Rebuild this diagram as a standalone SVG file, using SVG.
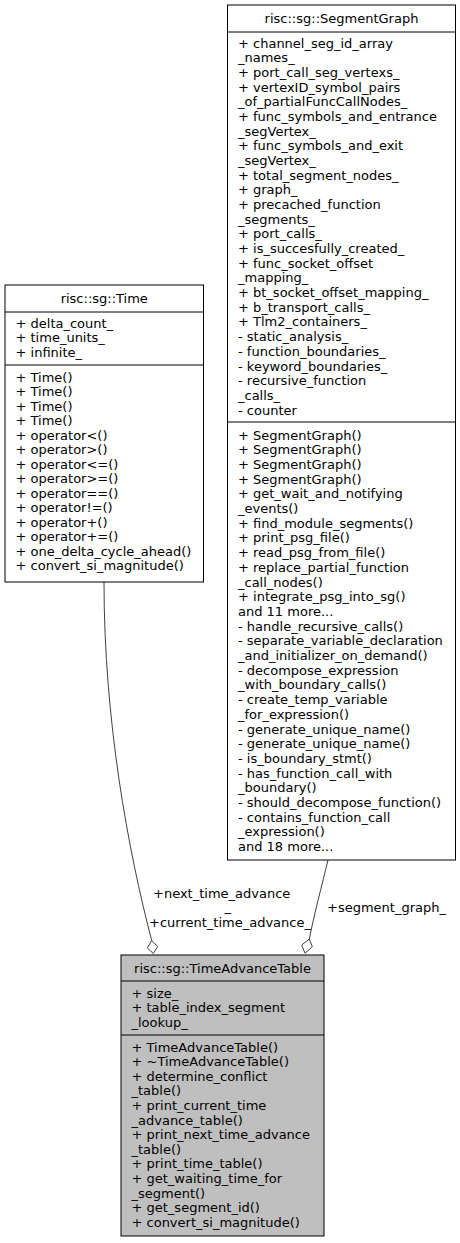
<svg xmlns="http://www.w3.org/2000/svg" width="460" height="1243" viewBox="0 0 460 1243">
<style>
text{font-family:"DejaVu Sans","Noto Sans",sans-serif;font-size:13px;fill:#000}
.t{text-anchor:middle}
.box{fill:#fff;stroke:#000;stroke-width:1}
.root{fill:#bfbfbf;stroke:#000;stroke-width:1}
.sep{stroke:#000;stroke-width:1}
.edge{fill:none;stroke:#404040;stroke-width:1}
.dia{fill:#fff;stroke:#404040;stroke-width:1}
</style>
<rect width="460" height="1243" fill="#fff"/>
<g id="edges">
<path class="edge" d="M104,582 C104,720 128,850 151.7,940.5"/>
<polygon class="dia" points="151.7,940.5 157.7,946.5 153.3,953.5 147.3,948"/>
<path class="edge" d="M328,860 C322,885 314,915 309.3,939"/>
<polygon class="dia" points="309.3,939 312.3,946.7 305,953.3 301.7,945"/>
<text x="153" y="897.5">+next_time_advance</text>
<text x="224.5" y="911">_</text>
<text x="149" y="926.5">+current_time_advance_</text>
<text x="327" y="911.5">+segment_graph_</text>
</g>
<g id="node_Time">
<rect class="box" x="5" y="285" width="198.5" height="297"/>
<line class="sep" x1="5" y1="312" x2="203.5" y2="312"/>
<line class="sep" x1="5" y1="365" x2="203.5" y2="365"/>
<text class="t" x="104.25" y="303">risc::sg::Time</text>
<text x="15.5" y="327.5">+ delta_count_</text>
<text x="15.5" y="342">+ time_units_</text>
<text x="15.5" y="356.5">+ infinite_</text>
<text x="15.5" y="381.5">+ Time()</text>
<text x="15.5" y="396">+ Time()</text>
<text x="15.5" y="410.5">+ Time()</text>
<text x="15.5" y="425">+ Time()</text>
<text x="15.5" y="439.5">+ operator&lt;()</text>
<text x="15.5" y="454">+ operator&gt;()</text>
<text x="15.5" y="468.5">+ operator&lt;=()</text>
<text x="15.5" y="483">+ operator&gt;=()</text>
<text x="15.5" y="497.5">+ operator==()</text>
<text x="15.5" y="512">+ operator!=()</text>
<text x="15.5" y="526.5">+ operator+()</text>
<text x="15.5" y="541">+ operator+=()</text>
<text x="15.5" y="555.5">+ one_delta_cycle_ahead()</text>
<text x="15.5" y="570">+ convert_si_magnitude()</text>
</g>
<g id="node_SegmentGraph">
<rect class="box" x="227.5" y="5" width="228" height="855"/>
<line class="sep" x1="227.5" y1="32" x2="455.5" y2="32"/>
<line class="sep" x1="227.5" y1="422" x2="455.5" y2="422"/>
<text class="t" x="341.5" y="23">risc::sg::SegmentGraph</text>
<text x="238" y="47.5">+ channel_seg_id_array</text>
<text x="238" y="62.2">_names_</text>
<text x="238" y="76.9">+ port_call_seg_vertexs_</text>
<text x="238" y="91.5">+ vertexID_symbol_pairs</text>
<text x="238" y="106.2">_of_partialFuncCallNodes_</text>
<text x="238" y="120.9">+ func_symbols_and_entrance</text>
<text x="238" y="135.6">_segVertex_</text>
<text x="238" y="150.3">+ func_symbols_and_exit</text>
<text x="238" y="164.9">_segVertex_</text>
<text x="238" y="179.6">+ total_segment_nodes_</text>
<text x="238" y="194.3">+ graph_</text>
<text x="238" y="209">+ precached_function</text>
<text x="238" y="223.7">_segments_</text>
<text x="238" y="238.3">+ port_calls_</text>
<text x="238" y="253">+ is_succesfully_created_</text>
<text x="238" y="267.7">+ func_socket_offset</text>
<text x="238" y="282.4">_mapping_</text>
<text x="238" y="297.1">+ bt_socket_offset_mapping_</text>
<text x="238" y="311.7">+ b_transport_calls_</text>
<text x="238" y="326.4">+ Tlm2_containers_</text>
<text x="238" y="341.1">- static_analysis_</text>
<text x="238" y="355.8">- function_boundaries_</text>
<text x="238" y="370.5">- keyword_boundaries_</text>
<text x="238" y="385.1">- recursive_function</text>
<text x="238" y="399.8">_calls_</text>
<text x="238" y="414.5">- counter</text>
<text x="238" y="439.5">+ SegmentGraph()</text>
<text x="238" y="454.2">+ SegmentGraph()</text>
<text x="238" y="468.9">+ SegmentGraph()</text>
<text x="238" y="483.6">+ SegmentGraph()</text>
<text x="238" y="498.3">+ get_wait_and_notifying</text>
<text x="238" y="513">_events()</text>
<text x="238" y="527.7">+ find_module_segments()</text>
<text x="238" y="542.4">+ print_psg_file()</text>
<text x="238" y="557.1">+ read_psg_from_file()</text>
<text x="238" y="571.8">+ replace_partial_function</text>
<text x="238" y="586.5">_call_nodes()</text>
<text x="238" y="601.2">+ integrate_psg_into_sg()</text>
<text x="238" y="615.9">and 11 more...</text>
<text x="238" y="630.6">- handle_recursive_calls()</text>
<text x="238" y="645.3">- separate_variable_declaration</text>
<text x="238" y="660">_and_initializer_on_demand()</text>
<text x="238" y="674.7">- decompose_expression</text>
<text x="238" y="689.4">_with_boundary_calls()</text>
<text x="238" y="704.1">- create_temp_variable</text>
<text x="238" y="718.8">_for_expression()</text>
<text x="238" y="733.5">- generate_unique_name()</text>
<text x="238" y="748.2">- generate_unique_name()</text>
<text x="238" y="762.9">- is_boundary_stmt()</text>
<text x="238" y="777.6">- has_function_call_with</text>
<text x="238" y="792.3">_boundary()</text>
<text x="238" y="807">- should_decompose_function()</text>
<text x="238" y="821.7">- contains_function_call</text>
<text x="238" y="836.4">_expression()</text>
<text x="238" y="851.1">and 18 more...</text>
</g>
<g id="node_TimeAdvanceTable">
<rect class="root" x="121" y="955" width="203" height="281"/>
<line class="sep" x1="121" y1="981" x2="324" y2="981"/>
<line class="sep" x1="121" y1="1035" x2="324" y2="1035"/>
<text class="t" x="222.5" y="972.5">risc::sg::TimeAdvanceTable</text>
<text x="131.5" y="997.5">+ size_</text>
<text x="131.5" y="1012">+ table_index_segment</text>
<text x="131.5" y="1026.5">_lookup_</text>
<text x="131.5" y="1051.5">+ TimeAdvanceTable()</text>
<text x="131.5" y="1066.1">+ ~TimeAdvanceTable()</text>
<text x="131.5" y="1080.7">+ determine_conflict</text>
<text x="131.5" y="1095.3">_table()</text>
<text x="131.5" y="1109.9">+ print_current_time</text>
<text x="131.5" y="1124.5">_advance_table()</text>
<text x="131.5" y="1139.1">+ print_next_time_advance</text>
<text x="131.5" y="1153.7">_table()</text>
<text x="131.5" y="1168.3">+ print_time_table()</text>
<text x="131.5" y="1182.9">+ get_waiting_time_for</text>
<text x="131.5" y="1197.5">_segment()</text>
<text x="131.5" y="1212.1">+ get_segment_id()</text>
<text x="131.5" y="1226.7">+ convert_si_magnitude()</text>
</g>
</svg>
